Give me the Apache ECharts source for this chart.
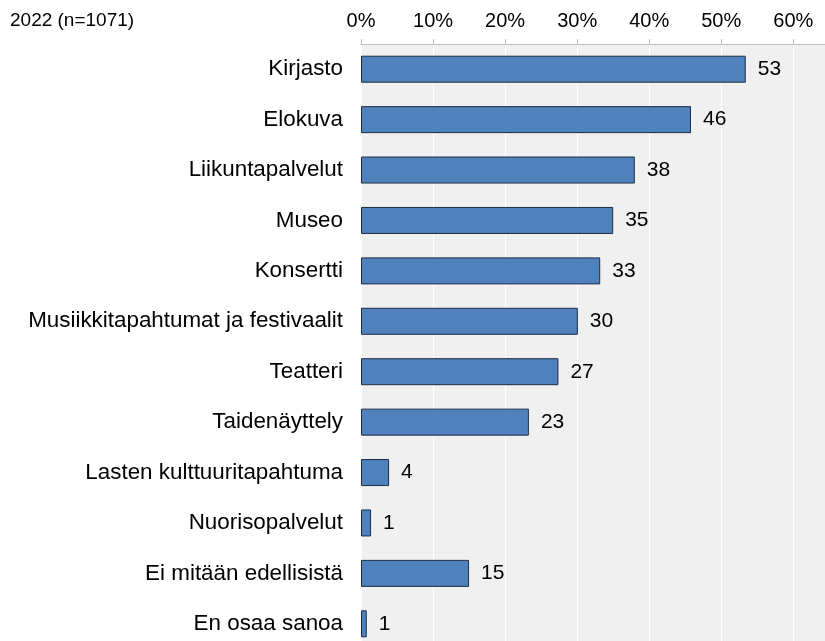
<!DOCTYPE html>
<html><head><meta charset="utf-8">
<script src="https://cdn.jsdelivr.net/npm/echarts@6/dist/echarts.min.js"></script>
<style>html,body{margin:0;padding:0;background:#fff;overflow:hidden}#c{width:825px;height:641px}</style>
</head><body><div id="c"></div>
<script>
const categories = ["Kirjasto","Elokuva","Liikuntapalvelut","Museo","Konsertti","Musiikkitapahtumat ja festivaalit","Teatteri","Taidenäyttely","Lasten kulttuuritapahtuma","Nuorisopalvelut","Ei mitään edellisistä","En osaa sanoa"];
const values = [53.4,45.8,38.0,35.0,33.2,30.1,27.4,23.3,3.9,1.4,15.0,0.8];
const xTicks = [0,10,20,30,40,50,60];
const title = "2022 (n=1071)";
const FONT = 'Liberation Sans, Arial, sans-serif';
const chart = echarts.init(document.getElementById('c'));
chart.setOption({
  animation:false,
  textStyle:{fontFamily:FONT},
  title:{text:title,left:5,top:6,textStyle:{fontSize:19,fontWeight:'normal',color:'#000',fontFamily:FONT}},
  grid:{left:361,top:44,right:0,height:605,show:true,backgroundColor:'#f0f0f0',borderWidth:0,containLabel:false,outerBoundsMode:'none'},
  xAxis:{type:'value',position:'top',min:0,max:64.4,interval:10,
    axisLine:{show:true,lineStyle:{color:'#bfbfbf',width:1}},
    axisTick:{show:true,length:5,lineStyle:{color:'#bfbfbf'}},
    splitLine:{show:true,lineStyle:{color:'#ffffff',width:1}},
    axisLabel:{margin:13,fontSize:20,color:'#000',fontFamily:FONT,formatter:v=>xTicks.includes(v)?v+'%':''}},
  yAxis:{type:'category',data:categories,inverse:true,
    axisLine:{show:false},axisTick:{show:false},
    axisLabel:{margin:18,fontSize:22.4,color:'#000',fontFamily:FONT}},
  series:[{type:'bar',data:values,barWidth:27,
    itemStyle:{color:'#4f81bd',borderColor:'#1e2d45',borderWidth:1},
    label:{show:true,position:'right',distance:12,fontSize:21,color:'#000',fontFamily:FONT,formatter:p=>Math.round(p.value)}}]
});
</script></body></html>
